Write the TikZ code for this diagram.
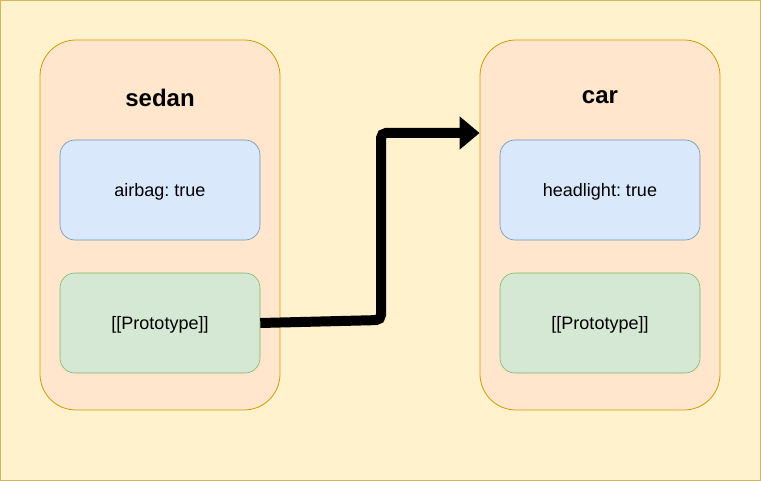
\documentclass[tikz,border=0pt]{standalone}
\usepackage{fontspec}
\setmainfont{Liberation Sans}
\usetikzlibrary{arrows.meta}
\frenchspacing
\definecolor{bgfill}{HTML}{FFF2CC}
\definecolor{bgline}{HTML}{D6B656}
\definecolor{orfill}{HTML}{FFE6CC}
\definecolor{orline}{HTML}{D79B00}
\definecolor{blfill}{HTML}{DAE8FC}
\definecolor{blline}{HTML}{6C8EBF}
\definecolor{grfill}{HTML}{D5E8D4}
\definecolor{grline}{HTML}{82B366}
\tikzset{
  objbox/.style={draw=orline, fill=orfill, line width=0.8pt, rounded corners=36pt,
    minimum width=240pt, minimum height=370pt, inner sep=0pt},
  title/.style={font=\fontsize{24}{28}\selectfont\bfseries\frenchspacing, inner sep=0pt},
  propbox/.style={draw=blline, fill=blfill, line width=0.6pt, rounded corners=15pt,
    minimum width=200pt, minimum height=100pt, inner sep=0pt,
    text height=15pt, text depth=2pt, font=\fontsize{18}{22}\selectfont\frenchspacing},
  protobox/.style={propbox, draw=grline, fill=grfill},
  link/.style={line width=10pt, rounded corners=5pt, -{Triangle[length=20pt,width=32pt]}}
}
\begin{document}
\begin{tikzpicture}[x=1pt,y=-1pt]
\useasboundingbox (0,0) rectangle (761,481);
\draw[draw=bgline, fill=bgfill, line width=1pt] (0.5,0.5) rectangle (760.5,480.5);
\node[objbox] (sedan) at (160,225) {};
\node[objbox] (car) at (600,225) {};
\node[title] (sedantitle) at (160,97.5) {sedan};
\node[title] (cartitle) at (600,97.5) {car};
\node[propbox] (airbag) at (160,190) {airbag: true};
\node[protobox] (sproto) at (160,323) {[[Prototype]]};
\node[propbox] (headlight) at (600,190) {headlight: true};
\node[protobox] (cproto) at (600,323) {[[Prototype]]};
\coordinate (turnA) at (381,320);
\coordinate (turnB) at (381,133);
\draw[link] (sproto.east) -- (turnA) -- (turnB) -- (car.west |- turnB);
\end{tikzpicture}
\end{document}
